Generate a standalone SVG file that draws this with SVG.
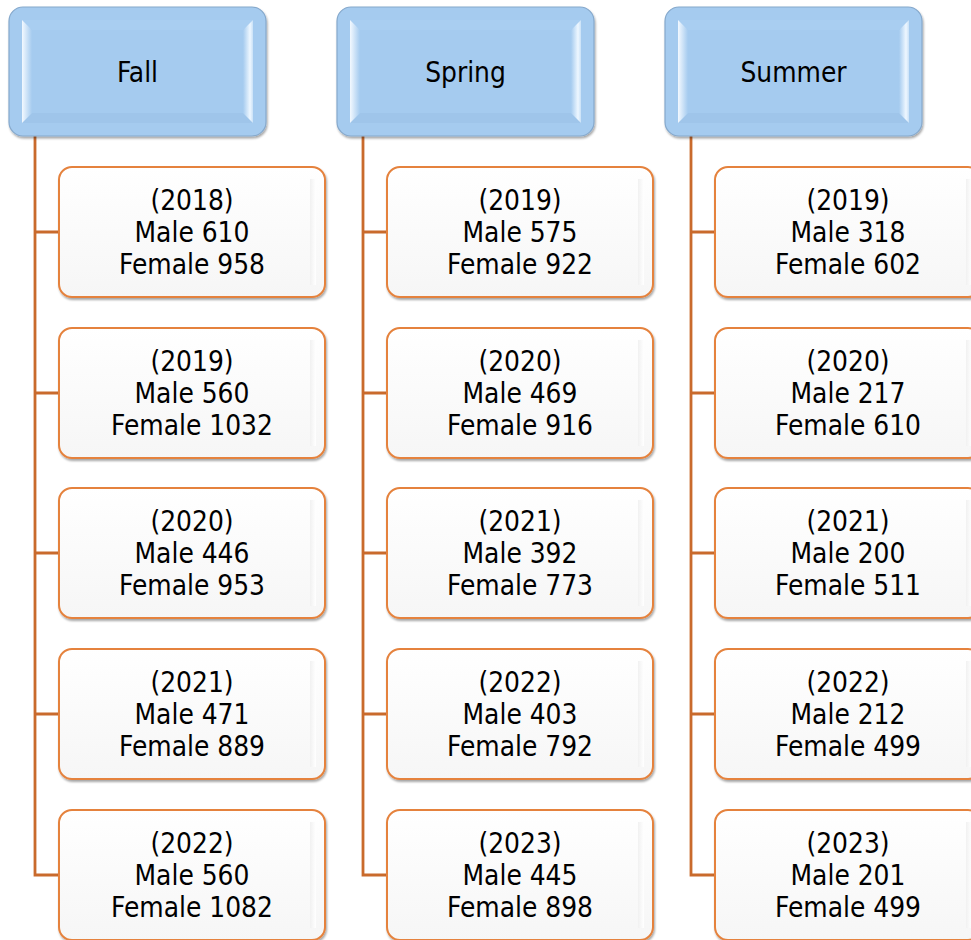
<svg xmlns="http://www.w3.org/2000/svg" width="971" height="940" viewBox="0 0 971 940">
<defs>
<style>
.hdr{fill:#a5cbef;stroke:#86a9cc;stroke-width:1.2}
.lb{fill:url(#bevL)}
.rb{fill:url(#bevR)}
.tb{fill:#a9cef1}
.bb{fill:#9fc5ea}
.box{fill:url(#boxG);stroke:#e5823d;stroke-width:2}
.rs{fill:url(#rstrip)}
.t{font-family:"DejaVu Sans Condensed","DejaVu Sans",sans-serif;font-stretch:condensed;font-size:27.8px;fill:#000;text-anchor:middle}
.con{fill:none;stroke:#c96a2c;stroke-width:2.8}
</style>
<linearGradient id="bevL" x1="0" y1="0" x2="1" y2="0">
<stop offset="0" stop-color="#f3f9ff"/>
<stop offset="1" stop-color="#a5cbef"/>
</linearGradient>
<linearGradient id="bevR" x1="0" y1="0" x2="1" y2="0">
<stop offset="0" stop-color="#a5cbef"/>
<stop offset="0.7" stop-color="#eef7ff"/>
<stop offset="1" stop-color="#c9e1f7"/>
</linearGradient>
<linearGradient id="boxG" x1="0" y1="0" x2="0" y2="1">
<stop offset="0" stop-color="#ffffff"/>
<stop offset="1" stop-color="#f6f6f6"/>
</linearGradient>
<linearGradient id="rstrip" x1="0" y1="0" x2="1" y2="0">
<stop offset="0" stop-color="#f1f1f1"/>
<stop offset="1" stop-color="#ffffff"/>
</linearGradient>
<filter id="sh" x="-5%" y="-5%" width="115%" height="115%">
<feDropShadow dx="1" dy="2" stdDeviation="1.2" flood-color="#000" flood-opacity="0.35"/>
</filter>
<g id="hdrShape">
<rect class="hdr" x="0" y="0" width="257" height="129" rx="14" filter="url(#sh)"/>
<polygon class="tb" points="13,13 244,13 234,23 23,23"/>
<polygon class="bb" points="23,106 234,106 244,116 13,116"/>
<polygon class="lb" points="13,13 23,23 23,106 13,116"/>
<polygon class="rb" points="244,13 234,23 234,106 244,116"/>
</g>
<g id="boxShape">
<rect class="box" x="0" y="0" width="266" height="130" rx="13" filter="url(#sh)"/>
<rect class="rs" x="251" y="12" width="6" height="106"/>
</g>
</defs>
<rect width="971" height="940" fill="#ffffff"/>

<g id="connectors">
<path class="con" d="M35,136V875H59M35,232H59M35,393H59M35,553H59M35,714H59"/>
<path class="con" d="M363,136V875H387M363,232H387M363,393H387M363,553H387M363,714H387"/>
<path class="con" d="M691,136V875H715M691,232H715M691,393H715M691,553H715M691,714H715"/>
</g>

<g id="fall">
<use href="#hdrShape" x="9" y="7"/>
<text class="t" x="137.5" y="81.7">Fall</text>
</g>
<g id="spring">
<use href="#hdrShape" x="337" y="7"/>
<text class="t" x="465.5" y="81.7">Spring</text>
</g>
<g id="summer">
<use href="#hdrShape" x="665" y="7"/>
<text class="t" x="793.5" y="81.7">Summer</text>
</g>

<g id="fall-2018"><use href="#boxShape" x="59" y="167"/>
<text class="t" x="192" y="209.7">(2018)</text><text class="t" x="192" y="241.7">Male 610</text><text class="t" x="192" y="273.7">Female 958</text></g>
<g id="fall-2019"><use href="#boxShape" x="59" y="328"/>
<text class="t" x="192" y="370.7">(2019)</text><text class="t" x="192" y="402.7">Male 560</text><text class="t" x="192" y="434.7">Female 1032</text></g>
<g id="fall-2020"><use href="#boxShape" x="59" y="488"/>
<text class="t" x="192" y="530.7">(2020)</text><text class="t" x="192" y="562.7">Male 446</text><text class="t" x="192" y="594.7">Female 953</text></g>
<g id="fall-2021"><use href="#boxShape" x="59" y="649"/>
<text class="t" x="192" y="691.7">(2021)</text><text class="t" x="192" y="723.7">Male 471</text><text class="t" x="192" y="755.7">Female 889</text></g>
<g id="fall-2022"><use href="#boxShape" x="59" y="810"/>
<text class="t" x="192" y="852.7">(2022)</text><text class="t" x="192" y="884.7">Male 560</text><text class="t" x="192" y="916.7">Female 1082</text></g>

<g id="spring-2019"><use href="#boxShape" x="387" y="167"/>
<text class="t" x="520" y="209.7">(2019)</text><text class="t" x="520" y="241.7">Male 575</text><text class="t" x="520" y="273.7">Female 922</text></g>
<g id="spring-2020"><use href="#boxShape" x="387" y="328"/>
<text class="t" x="520" y="370.7">(2020)</text><text class="t" x="520" y="402.7">Male 469</text><text class="t" x="520" y="434.7">Female 916</text></g>
<g id="spring-2021"><use href="#boxShape" x="387" y="488"/>
<text class="t" x="520" y="530.7">(2021)</text><text class="t" x="520" y="562.7">Male 392</text><text class="t" x="520" y="594.7">Female 773</text></g>
<g id="spring-2022"><use href="#boxShape" x="387" y="649"/>
<text class="t" x="520" y="691.7">(2022)</text><text class="t" x="520" y="723.7">Male 403</text><text class="t" x="520" y="755.7">Female 792</text></g>
<g id="spring-2023"><use href="#boxShape" x="387" y="810"/>
<text class="t" x="520" y="852.7">(2023)</text><text class="t" x="520" y="884.7">Male 445</text><text class="t" x="520" y="916.7">Female 898</text></g>

<g id="summer-2019"><use href="#boxShape" x="715" y="167"/>
<text class="t" x="848" y="209.7">(2019)</text><text class="t" x="848" y="241.7">Male 318</text><text class="t" x="848" y="273.7">Female 602</text></g>
<g id="summer-2020"><use href="#boxShape" x="715" y="328"/>
<text class="t" x="848" y="370.7">(2020)</text><text class="t" x="848" y="402.7">Male 217</text><text class="t" x="848" y="434.7">Female 610</text></g>
<g id="summer-2021"><use href="#boxShape" x="715" y="488"/>
<text class="t" x="848" y="530.7">(2021)</text><text class="t" x="848" y="562.7">Male 200</text><text class="t" x="848" y="594.7">Female 511</text></g>
<g id="summer-2022"><use href="#boxShape" x="715" y="649"/>
<text class="t" x="848" y="691.7">(2022)</text><text class="t" x="848" y="723.7">Male 212</text><text class="t" x="848" y="755.7">Female 499</text></g>
<g id="summer-2023"><use href="#boxShape" x="715" y="810"/>
<text class="t" x="848" y="852.7">(2023)</text><text class="t" x="848" y="884.7">Male 201</text><text class="t" x="848" y="916.7">Female 499</text></g>
</svg>
